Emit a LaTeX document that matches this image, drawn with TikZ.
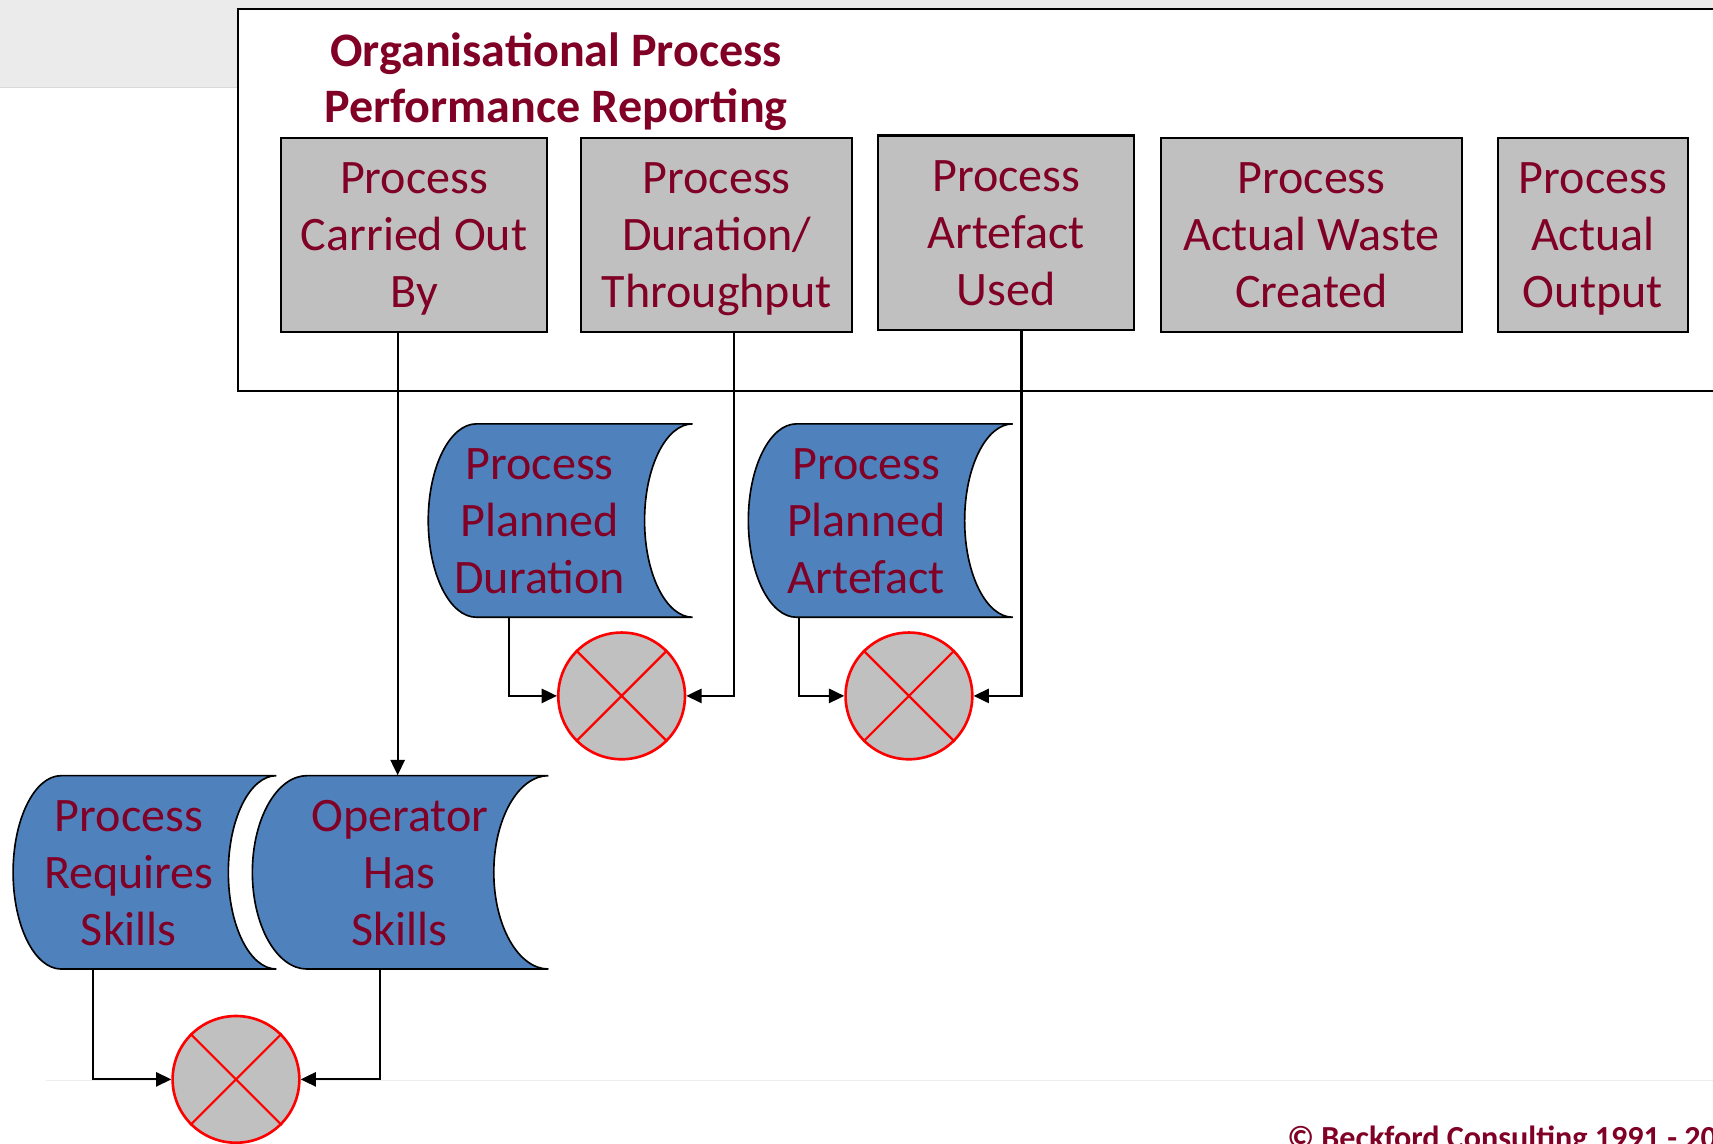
\documentclass[tikz,border=0pt]{standalone}
\usepackage{fontspec}
\setmainfont{Carlito}
\usetikzlibrary{arrows.meta,calc}
\definecolor{txt}{RGB}{128,0,38}
\definecolor{cylblue}{RGB}{79,129,189}
\definecolor{boxgray}{RGB}{192,192,192}
\definecolor{bandgray}{RGB}{235,235,235}
\newcommand{\lnstrut}{\rule[-4.6pt]{0pt}{23.6pt}}
\newcommand{\threel}[3]{\lnstrut #1\\\lnstrut #2\\\lnstrut #3}
\newcommand{\dacyl}[5]{%
 \pgfmathsetmacro{\dcL}{#1}\pgfmathsetmacro{\dcR}{#2}%
 \pgfmathsetmacro{\dcT}{#3}\pgfmathsetmacro{\dcB}{#4}\pgfmathsetmacro{\dcX}{#5}%
 \pgfmathsetmacro{\dcM}{(#3+#4)/2}\pgfmathsetmacro{\dcY}{(#4-#3)/2}%
 \pgfmathsetmacro{\dkx}{0.5523*#5}\pgfmathsetmacro{\dky}{0.5523*\dcY}%
 \draw[cylsty] ({\dcL+\dcX},\dcB) .. controls ({\dcL+\dcX-\dkx},\dcB) and (\dcL,{\dcM+\dky}) .. (\dcL,\dcM)
   .. controls (\dcL,{\dcM-\dky}) and ({\dcL+\dcX-\dkx},\dcT) .. ({\dcL+\dcX},\dcT) -- (\dcR,\dcT)
   .. controls ({\dcR-\dkx},\dcT) and ({\dcR-\dcX},{\dcM-\dky}) .. ({\dcR-\dcX},\dcM)
   .. controls ({\dcR-\dcX},{\dcM+\dky}) and ({\dcR-\dkx},\dcB) .. (\dcR,\dcB) -- cycle;
}
\begin{document}
\begin{tikzpicture}[x=0.5pt,y=-0.5pt,
  boxtext/.style={font=\fontsize{22}{26.1}\selectfont, text=txt, align=center},
  graybox/.style={boxtext, draw=black, line width=1pt, fill=boxgray, inner sep=0pt},
  cyltext/.style={boxtext, minimum height=88.5pt, inner sep=0pt},
  cylsty/.style={draw=black, line width=0.75pt, fill=cylblue},
  sumj/.style={circle, draw=red, line width=1.2pt, fill=boxgray, minimum size=58pt, inner sep=0pt},
  xline/.style={red, line width=1pt},
  conn/.style={draw=black, line width=1pt, -{Triangle[length=7pt,width=6.5pt]}},
  titletext/.style={font=\bfseries\fontsize{22}{25.5}\selectfont, text=txt, align=center}
]
\useasboundingbox (0,0) rectangle (1568,1047);
\clip (0,0) rectangle (1568,1047);
% top band
\fill[bandgray] (0,0) rectangle (1568,80);
\draw[black!15, line width=0.5pt] (0,80) -- (218,80);
% big frame
\draw[line width=1pt, fill=white] (218,8) rectangle (1620,358);
\node[titletext] (ttl) at (509,72) {\lnstrut Organisational Process\\\lnstrut Performance Reporting};
% gray boxes
\node[graybox, minimum width=122pt, minimum height=89pt] (b1) at (379,215) {\threel{Process}{Carried Out}{By}};
\node[graybox, minimum width=124pt, minimum height=89pt] (b2) at (656,215) {\threel{Process}{Duration/}{Throughput}};
\node[graybox, minimum width=117pt, minimum height=89pt] (b3) at (921,213) {\threel{Process}{Artefact}{Used}};
\node[graybox, minimum width=137.5pt, minimum height=89pt] (b4) at (1200.5,215) {\threel{Process}{Actual Waste}{Created}};
\node[graybox, minimum width=87pt, minimum height=89pt] (b5) at (1458,215) {\threel{Process}{Actual}{Output}};
% cylinders
\dacyl{392}{634}{388}{565}{44}
\dacyl{685}{927}{388}{565}{44}
\dacyl{12}{253}{710}{887}{44}
\dacyl{231}{502}{710}{887}{50}
\node[cyltext] (dur) at (494,476.5) {\threel{Process}{Planned}{Duration}};
\node[cyltext] (art) at (793,476.5) {\threel{Process}{Planned}{Artefact}};
\node[cyltext] (req) at (118,798.5) {\threel{Process}{Requires}{Skills}};
\node[cyltext] (op) at (366,798.5) {\threel{Operator}{Has}{Skills}};
% faint footer rule
\draw[black!7, line width=0.75pt] (42,989) -- (1568,989);
% summing junctions
\node[sumj] (s1) at (569,637) {};
\node[sumj] (s2) at (832,637) {};
\node[sumj] (s3) at (216,988) {};
\foreach \s in {s1,s2,s3}
  \draw[xline] (\s.45) -- (\s.225) (\s.135) -- (\s.315);
% connectors
\draw[conn] (364,0 |- b1.south) -- (364,0 |- op.north);
\draw[conn] (672,0 |- b2.south) |- (s1.east);
\draw[conn] (466,0 |- dur.south) |- (s1.west);
\draw[conn] (935,0 |- b3.south) |- (s2.east);
\draw[conn] (731,0 |- art.south) |- (s2.west);
\draw[conn] (85,0 |- req.south) |- (s3.west);
\draw[conn] (348,0 |- op.south) |- (s3.east);
% copyright
\node[anchor=base west, inner sep=0pt, text=txt, font=\bfseries\fontsize{14.7}{17}\selectfont] (copy) at (1178,1051) {© Beckford Consulting 1991 - 20};
\end{tikzpicture}
\end{document}
